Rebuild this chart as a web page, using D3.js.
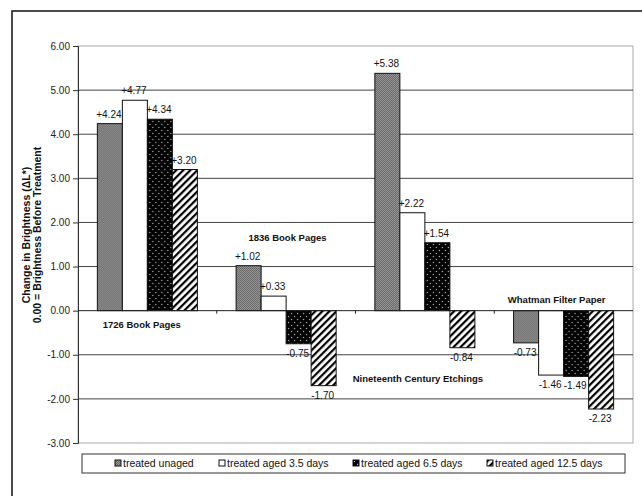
<!DOCTYPE html>
<html>
<head>
<meta charset="utf-8">
<script src="https://cdn.jsdelivr.net/npm/d3@7"></script>
<style>
  body { margin: 0; background: #fff; }
  text { font-family: "Liberation Sans", Arial, sans-serif; fill: #111; }
</style>
</head>
<body>
<div id="chart"></div>
<script>
// data
var categories = ["1726 Book Pages", "1836 Book Pages", "Nineteenth Century Etchings", "Whatman Filter Paper"];
var seriesNames = ["treated unaged", "treated aged 3.5 days", "treated aged 6.5 days", "treated aged 12.5 days"];
var unaged  = [4.24, 1.02, 5.38, -0.73];
var aged35  = [4.77, 0.33, 2.22, -1.46];
var aged65  = [4.34, -0.75, 1.54, -1.49];
var aged125 = [3.20, -1.70, -0.84, -2.23];
var yTicks = [6, 5, 4, 3, 2, 1, 0, -1, -2, -3];
// where the category names sit (centre x as fraction of band, y in data units)
var catLabelX = [0.46, 0.51, 0.45, 0.45];
var catLabelY = [-0.30, 1.67, -1.53, 0.27];

var values = [unaged, aged35, aged65, aged125];
var fills = ["url(#pGrey)", "#fff", "url(#pDots)", "url(#pStripes)"];

var W = 642, H = 496;
var plotL = 78, plotR = 633, plotT = 46, plotB = 443;

// excel style numbers, plain hyphen for minus
function fmt(v){ return v.toFixed(2); }
function fmtSigned(v){ return (v >= 0 ? "+" : "-") + Math.abs(v).toFixed(2); }

var svg = d3.select("#chart").append("svg")
            .attr("width", W)
            .attr("height", H);

// patterns
var defs = svg.append("defs");
var pg = defs.append("pattern").attr("id", "pGrey")
             .attr("patternUnits", "userSpaceOnUse")
             .attr("width", 2).attr("height", 2);
pg.append("rect").attr("width", 2).attr("height", 2).style("fill", "#999");
pg.append("rect").attr("width", 1).attr("height", 1).style("fill", "#666");
pg.append("rect").attr("x", 1).attr("y", 1).attr("width", 1).attr("height", 1).style("fill", "#666");

var pd = defs.append("pattern").attr("id", "pDots")
             .attr("patternUnits", "userSpaceOnUse")
             .attr("width", 6).attr("height", 6);
pd.append("rect").attr("width", 6).attr("height", 6).style("fill", "#000");
pd.append("circle").attr("cx", 1.5).attr("cy", 1.5).attr("r", 0.7).style("fill", "#bbb");
pd.append("circle").attr("cx", 4.5).attr("cy", 4.5).attr("r", 0.7).style("fill", "#bbb");

var ps = defs.append("pattern").attr("id", "pStripes")
             .attr("patternUnits", "userSpaceOnUse")
             .attr("width", 5).attr("height", 5)
             .attr("patternTransform", "rotate(45)");
ps.append("rect").attr("width", 5).attr("height", 5).style("fill", "#fff");
ps.append("rect").attr("width", 2.2).attr("height", 5).style("fill", "#000");

// outer frame (runs off the picture right and bottom)
svg.append("rect")
   .attr("x", 12).attr("y", 11)
   .attr("width", 700).attr("height", 600)
   .style("fill", "none")
   .style("stroke", "#111")
   .style("stroke-width", 1.5);

var y = d3.scaleLinear().domain([-3, 6]).range([plotB, plotT]);
var x0 = d3.scaleBand().domain(categories).range([plotL, plotR])
           .paddingInner(0.279).paddingOuter(0.1395);
var x1 = d3.scaleBand().domain(d3.range(seriesNames.length)).range([0, x0.bandwidth()]);

// plot frame
svg.append("rect")
   .attr("x", plotL).attr("y", plotT)
   .attr("width", plotR - plotL).attr("height", plotB - plotT)
   .style("fill", "none")
   .style("stroke", "#aaa");

// gridlines
svg.append("g").selectAll("line")
   .data(yTicks.filter(function(d){ return d != 6 && d != -3 && d != 0; }))
   .enter().append("line")
   .attr("x1", plotL).attr("x2", plotR)
   .attr("y1", function(d){ return y(d); })
   .attr("y2", function(d){ return y(d); })
   .style("stroke", "#444")
   .style("stroke-width", 1);

// y axis
var yAxis = svg.append("g")
   .attr("transform", "translate(" + plotL + ",0)")
   .call(d3.axisLeft(y).tickValues(yTicks).tickFormat(fmt).tickSize(5).tickPadding(3));
yAxis.select(".domain").style("stroke", "#333");
yAxis.selectAll(".tick line").style("stroke", "#333");
yAxis.selectAll("text").style("font-size", "10px").style("font-family", "Liberation Sans, Arial, sans-serif").style("fill", "#222");

// bars
var groups = svg.append("g").selectAll("g")
   .data(categories)
   .enter().append("g")
   .attr("transform", function(d){ return "translate(" + x0(d) + ",0)"; });

groups.selectAll("rect")
   .data(function(d, i){ return values.map(function(v, s){ return {s: s, v: v[i]}; }); })
   .enter().append("rect")
   .attr("x", function(d){ return x1(d.s); })
   .attr("width", x1.bandwidth())
   .attr("y", function(d){ return y(Math.max(0, d.v)); })
   .attr("height", function(d){ return Math.abs(y(d.v) - y(0)); })
   .style("fill", function(d){ return fills[d.s]; })
   .style("stroke", "#111")
   .style("stroke-width", 1);

groups.selectAll("text")
   .data(function(d, i){ return values.map(function(v, s){ return {s: s, v: v[i]}; }); })
   .enter().append("text")
   .attr("x", function(d){ return x1(d.s) + x1.bandwidth() / 2 - 1; })
   .attr("y", function(d){ return d.v >= 0 ? y(d.v) - 6 : y(d.v) + 13; })
   .attr("text-anchor", "middle")
   .style("font-size", "10px")
   .text(function(d){ return fmtSigned(d.v); });

// zero line with category boundary ticks
svg.append("line")
   .attr("x1", plotL).attr("x2", plotR)
   .attr("y1", y(0)).attr("y2", y(0))
   .style("stroke", "#222");
svg.append("g").selectAll("line")
   .data(categories.slice(1))
   .enter().append("line")
   .attr("x1", function(d){ return x0(d) - (x0.step() - x0.bandwidth()) / 2; })
   .attr("x2", function(d){ return x0(d) - (x0.step() - x0.bandwidth()) / 2; })
   .attr("y1", y(0)).attr("y2", y(0) + 3)
   .style("stroke", "#222");

// category names inside the plot
svg.append("g").selectAll("text")
   .data(categories)
   .enter().append("text")
   .attr("x", function(d, i){ return x0(d) - (x0.step() - x0.bandwidth()) / 2 + catLabelX[i] * x0.step(); })
   .attr("y", function(d, i){ return y(catLabelY[i]) + 4; })
   .attr("text-anchor", "middle")
   .style("font-size", "9.5px")
   .style("font-weight", "bold")
   .text(function(d){ return d; });

// y axis title
var yt = svg.append("text")
   .attr("transform", "translate(30,235) rotate(-90)")
   .attr("text-anchor", "middle")
   .style("font-size", "10.5px")
   .style("font-weight", "bold");
yt.append("tspan").attr("x", 0).attr("dy", 0).text("Change in Brightness (\u0394L*)");
yt.append("tspan").attr("x", 0).attr("dy", 11).text("0.00 = Brightness Before Treatment");

// legend
var legend = svg.append("g");
legend.append("rect")
   .attr("x", 82).attr("y", 454)
   .attr("width", 543).attr("height", 19)
   .style("fill", "#fff")
   .style("stroke", "#333");
var legX = [115, 219, 353, 487];
var items = legend.selectAll("g.item")
   .data(seriesNames)
   .enter().append("g")
   .attr("class", "item")
   .attr("transform", function(d, i){ return "translate(" + legX[i] + ",460)"; });
items.append("rect")
   .attr("width", 6).attr("height", 6)
   .style("fill", function(d, i){ return fills[i]; })
   .style("stroke", "#111")
   .style("stroke-width", 1);
items.append("text")
   .attr("x", 8).attr("y", 7)
   .style("font-size", "10.5px")
   .text(function(d){ return d; });
</script>
</body>
</html>
